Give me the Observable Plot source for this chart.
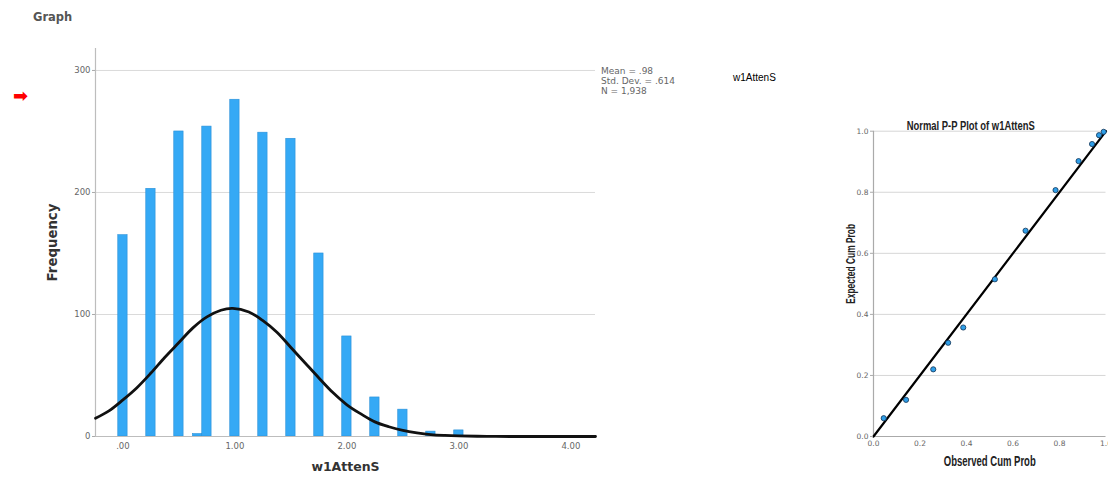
<!DOCTYPE html>
<html>
<head>
<meta charset="utf-8">
<script src="https://cdn.jsdelivr.net/npm/d3@7"></script>
<script src="https://cdn.jsdelivr.net/npm/@observablehq/plot@0.6"></script>
<style>
  html, body { margin: 0; padding: 0; background: #fff; }
  #root { position: relative; width: 1108px; height: 479px; overflow: hidden; font-family: "DejaVu Sans", sans-serif; }
  .abs { position: absolute; white-space: nowrap; }
  #hist, #pp { position: absolute; }
  #hist { left: 0; top: 0; }
  #pp { left: 820px; top: 100px; }
</style>
</head>
<body>
<div id="root">
  <div class="abs" style="left:33px; top:10px; font-size:11.5px; font-weight:bold; color:#555;">Graph</div>
  <div class="abs" style="left:13px; top:85px; font-size:18px; font-weight:bold; color:#f00;">➡</div>
  <div class="abs" id="stats" style="left:601px; top:67px; font-size:9px; line-height:9.8px; color:#666;"></div>
  <div class="abs" style="left:733px; top:72px; font-family:'Liberation Sans', Arial, sans-serif; font-size:10px; color:#000;">w1AttenS</div>
  <div id="hist"></div>
  <div id="pp"></div>
</div>
<script>
// ---- Histogram data ----
const binValues = [0, 0.25, 0.5, 0.667, 0.75, 1.0, 1.25, 1.5, 1.75, 2.0, 2.25, 2.5, 2.75, 3.0];
const binCounts = [165, 203, 250, 2, 254, 276, 249, 244, 150, 82, 32, 22, 4, 5];
const histXTicks = [0, 1, 2, 3, 4];
const histYTicks = [0, 100, 200, 300];
const histXTickLabels = [".00", "1.00", "2.00", "3.00", "4.00"];

// fitted normal curve
const curveX = [-0.245, -0.125, 0, 0.125, 0.25, 0.375, 0.5, 0.625, 0.75, 0.875, 0.98, 1.125, 1.25, 1.375, 1.5, 1.625, 1.75, 1.875, 2.0, 2.125, 2.25, 2.375, 2.5, 2.625, 2.75, 2.875, 3.0, 3.25, 3.5, 4.0, 4.22];
const curveY = [15, 21, 30, 40, 52, 65, 77, 89, 98, 103.5, 105, 102, 95, 85.5, 73, 60.5, 48, 36, 26, 18.5, 12, 8, 5, 3, 1.6, 0.9, 0.5, 0.1, 0, 0, 0];

const statsLines = ["Mean = .98", "Std. Dev. = .614", "N = 1,938"];

// ---- P-P plot data ----
const ppObserved = [0.044, 0.14, 0.257, 0.321, 0.386, 0.522, 0.654, 0.783, 0.882, 0.94, 0.97, 0.99];
const ppExpected = [0.06, 0.12, 0.22, 0.307, 0.357, 0.515, 0.674, 0.807, 0.902, 0.958, 0.987, 0.998];
const ppTicks = [0, 0.2, 0.4, 0.6, 0.8, 1.0];
const ppTickLabels = ["0.0", "0.2", "0.4", "0.6", "0.8", "1.0"];

document.getElementById("stats").innerHTML = statsLines.join("<br>");

const bins = binValues.map((v, i) => ({v, n: binCounts[i]}));
const curve = curveX.map((x, i) => ({x, y: curveY[i]}));
const halfBin = 1 / 24;
const xDom = [-0.245, 4.22];

const tickFont = "DejaVu Sans, sans-serif";

const hist = Plot.plot({
  width: 600, height: 479,
  marginLeft: 95, marginRight: 5, marginTop: 48, marginBottom: 43,
  x: {domain: xDom},
  y: {domain: [0, 318]},
  style: {fontFamily: tickFont, fontSize: "8.5px", color: "#666", background: "transparent", overflow: "visible"},
  marks: [
    Plot.ruleY(histYTicks.slice(1), {stroke: "#dadada", strokeWidth: 1}),
    Plot.rectY(bins, {x1: d => d.v - halfBin, x2: d => d.v + halfBin, y: "n", fill: "#35a9f5", stroke: "#2a90d8", strokeWidth: 0.6, inset: 0}),
    Plot.ruleX([xDom[0]], {y1: 0, y2: 318, stroke: "#bdbdbd", strokeWidth: 1.2}),
    Plot.ruleY([0], {stroke: "#bdbdbd", strokeWidth: 1.2}),
    Plot.line(curve, {x: "x", y: "y", curve: "catmull-rom", stroke: "#111", strokeWidth: 2.8}),
    Plot.axisY({ticks: histYTicks, tickSize: 3, tickPadding: 2, label: null, stroke: "#aaa", fill: "#666"}),
    Plot.axisX({ticks: histXTicks, tickSize: 0, tickPadding: 6, label: null, tickFormat: (d, i) => histXTickLabels[i], fill: "#666"}),
    Plot.text(["Frequency"], {text: d => d, frameAnchor: "left", textAnchor: "middle", dx: -43, rotate: -90, fontSize: 13.3, fontWeight: "bold", fill: "#333"}),
    Plot.text(["w1AttenS"], {text: d => d, frameAnchor: "bottom", textAnchor: "middle", dy: 34, fontSize: 12.5, fontWeight: "bold", fill: "#333"})
  ]
});
document.getElementById("hist").appendChild(hist);

const pts = ppObserved.map((o, i) => ({o, e: ppExpected[i]}));
const labelFont = "'Liberation Sans', Arial, sans-serif";

const pp = Plot.plot({
  width: 288, height: 379,
  marginLeft: 53, marginRight: 2.5, marginTop: 30.7, marginBottom: 43,
  x: {domain: [0, 1]},
  y: {domain: [0, 1]},
  style: {fontFamily: tickFont, fontSize: "7.5px", color: "#666", background: "transparent", overflow: "visible"},
  marks: [
    Plot.ruleY(ppTicks.slice(1), {stroke: "#d6d6d6", strokeWidth: 1}),
    Plot.ruleX([0], {stroke: "#aaa", strokeWidth: 1.2}),
    Plot.ruleY([0], {stroke: "#aaa", strokeWidth: 1.2}),
    Plot.line([{o: 0, e: 0}, {o: 1, e: 1}], {x: "o", y: "e", stroke: "#000", strokeWidth: 2.2}),
    Plot.dot(pts, {x: "o", y: "e", r: 2.6, fill: "#2e9ee8", stroke: "#123456", strokeWidth: 0.8}),
    Plot.axisY({ticks: ppTicks, tickSize: 3, tickPadding: 2, label: null, tickFormat: (d, i) => ppTickLabels[i], stroke: "#aaa", fill: "#666"}),
    Plot.axisX({ticks: ppTicks, tickSize: 0, tickPadding: 4, label: null, tickFormat: (d, i) => ppTickLabels[i], fill: "#666"}),
    Plot.text(["Normal P-P Plot of w1AttenS"], {text: d => d, frameAnchor: "top", textAnchor: "middle", dx: -19, dy: -10, fontFamily: labelFont, fontSize: 12.5, fontWeight: "bold", fill: "#222", className: "fit-title"}),
    Plot.text(["Expected Cum Prob"], {text: d => d, frameAnchor: "left", textAnchor: "middle", dx: -23, dy: -20, rotate: -90, fontFamily: labelFont, fontSize: 12.5, fontWeight: "bold", fill: "#222", className: "fit-ylab"}),
    Plot.text(["Observed Cum Prob"], {text: d => d, frameAnchor: "bottom", textAnchor: "middle", dy: 29, fontFamily: labelFont, fontSize: 14, fontWeight: "bold", fill: "#222", className: "fit-xlab"})
  ]
});
document.getElementById("pp").appendChild(pp);

// condense the P-P labels to the narrow width of the original font
[["fit-title", 128], ["fit-ylab", 80], ["fit-xlab", 92]].forEach(([cls, len]) => {
  pp.querySelectorAll("." + cls + " text").forEach(t => {
    t.setAttribute("textLength", len);
    t.setAttribute("lengthAdjust", "spacingAndGlyphs");
  });
});
</script>
</body>
</html>
